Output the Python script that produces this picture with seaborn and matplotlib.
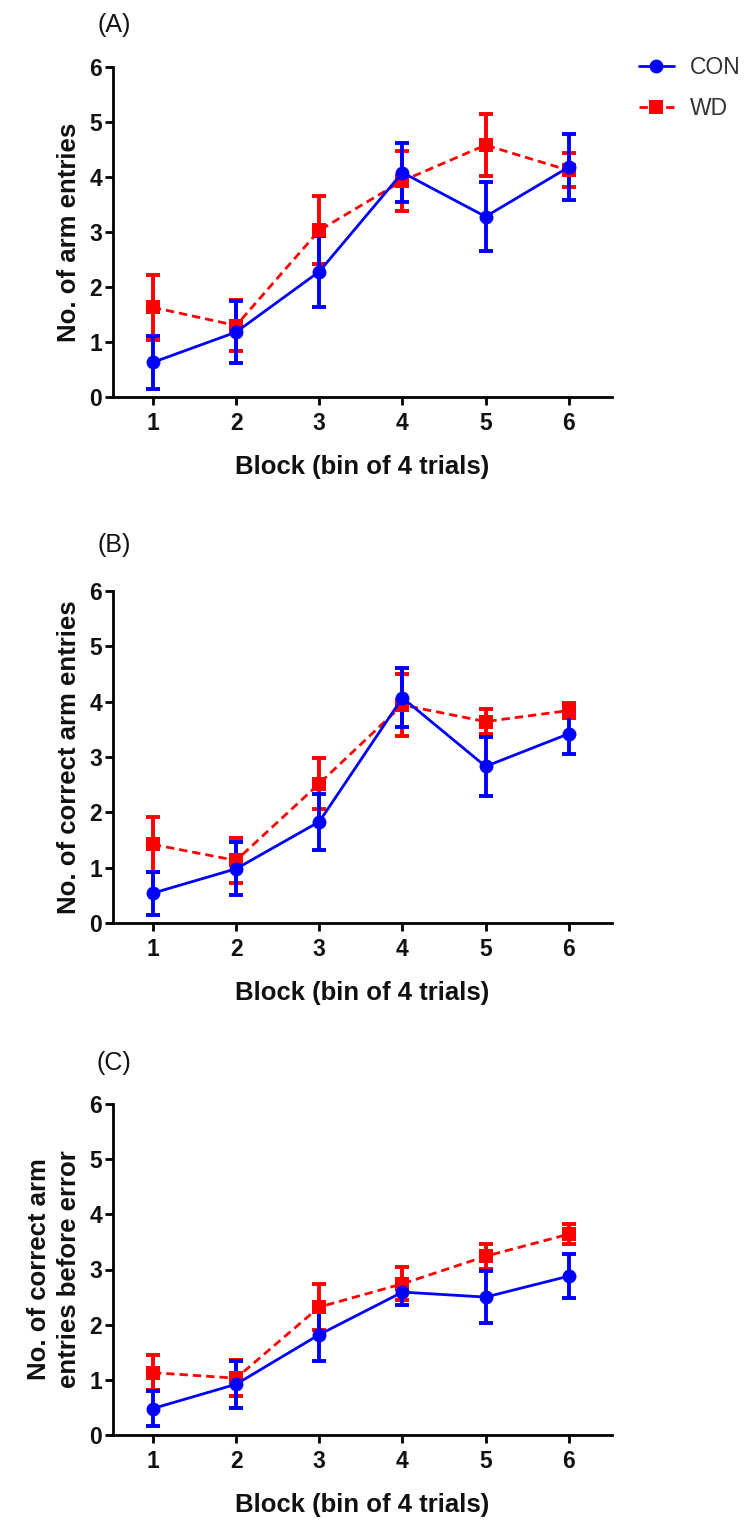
import matplotlib
matplotlib.use("Agg")
import matplotlib.pyplot as plt
import numpy as np
import pandas as pd
import seaborn as sns

# ---------------- data ----------------
blocks = [1, 2, 3, 4, 5, 6]
groups = ["CON", "WD"]
panel_letters = ["(A)", "(B)", "(C)"]
y_labels = ["No. of arm entries",
            "No. of correct arm entries",
            "No. of correct arm\nentries before error"]
x_label = "Block (bin of 4 trials)"
y_ticks = [0, 1, 2, 3, 4, 5, 6]

# Panel A: arm entries
a_con_mean = [0.63, 1.18, 2.28, 4.08, 3.28, 4.18]
a_con_sem = [0.48, 0.56, 0.65, 0.54, 0.63, 0.60]
a_wd_mean = [1.63, 1.30, 3.03, 3.93, 4.58, 4.12]
a_wd_sem = [0.59, 0.46, 0.62, 0.55, 0.56, 0.31]

# Panel B: correct arm entries
b_con_mean = [0.54, 0.98, 1.83, 4.07, 2.83, 3.42]
b_con_sem = [0.39, 0.48, 0.51, 0.53, 0.54, 0.37]
b_wd_mean = [1.42, 1.13, 2.52, 3.94, 3.64, 3.84]
b_wd_sem = [0.49, 0.40, 0.46, 0.56, 0.22, 0.13]

# Panel C: correct arm entries before error
c_con_mean = [0.48, 0.92, 1.82, 2.59, 2.50, 2.88]
c_con_sem = [0.31, 0.43, 0.47, 0.24, 0.47, 0.40]
c_wd_mean = [1.13, 1.03, 2.32, 2.74, 3.24, 3.64]
c_wd_sem = [0.32, 0.33, 0.42, 0.30, 0.23, 0.18]

panels = [
    {"CON": (a_con_mean, a_con_sem), "WD": (a_wd_mean, a_wd_sem)},
    {"CON": (b_con_mean, b_con_sem), "WD": (b_wd_mean, b_wd_sem)},
    {"CON": (c_con_mean, c_con_sem), "WD": (c_wd_mean, c_wd_sem)},
]

# ---------------- style ----------------
sns.set_style("ticks")
plt.rcParams["font.family"] = ["Liberation Sans", "DejaVu Sans"]

colors = {"CON": "#0000FF", "WD": "#FF0000"}
markers = {"CON": "o", "WD": "s"}
msizes = {"CON": 10, "WD": 10}
dashes = {"CON": "", "WD": (3, 1.8)}

W, H = 750, 1522
fig = plt.figure(figsize=(W / 100, H / 100), dpi=100)

# axes rectangles in pixels: (left, top-of-6, right, y-of-0)
rects = [(113, 67, 612, 397), (113, 591, 612, 923), (113, 1104, 612, 1435)]
letter_y = [25, 545, 1063]

handles = {}
for i, (rect, pdata) in enumerate(zip(rects, panels)):
    l, t, r, b = rect
    ax = fig.add_axes([l / W, 1 - b / H, (r - l) / W, (b - t) / H])
    for g in ["WD", "CON"]:
        mean, sem = pdata[g]
        df = pd.DataFrame({"block": blocks, "value": mean, "group": g})
        ax.errorbar(blocks, mean, yerr=sem, fmt="none", ecolor=colors[g],
                    elinewidth=2.8, capsize=4.8, capthick=2.8, zorder=2)
        sns.lineplot(data=df, x="block", y="value", hue="group",
                     palette={g: colors[g]}, style="group",
                     markers={g: markers[g]}, dashes={g: dashes[g]},
                     markersize=msizes[g], markeredgewidth=0,
                     linewidth=2.0, errorbar=None, legend=False,
                     ax=ax, zorder=3)
        handles[g] = ax.get_lines()[-1]

    ax.set_xlim(0.52, 6.52)
    ax.set_ylim(0, 6)
    ax.set_xticks(blocks)
    ax.set_yticks(y_ticks)
    ax.set_xticklabels([str(v) for v in blocks])
    ax.set_yticklabels([str(v) for v in y_ticks])
    sns.despine(ax=ax)
    for s in ["left", "bottom"]:
        ax.spines[s].set_linewidth(2.0)
        ax.spines[s].set_color("black")
    ax.tick_params(axis="both", which="major", length=6, width=2.0,
                   color="black", labelsize=16.5, labelcolor="#111111",
                   direction="out")
    ax.tick_params(axis="y", pad=2)
    ax.tick_params(axis="x", pad=5)
    for lab in ax.get_xticklabels() + ax.get_yticklabels():
        lab.set_fontweight("bold")
    ax.set_xlabel(x_label, fontsize=18.5, fontweight="bold", color="#111111",
                  labelpad=14)
    ax.set_ylabel(y_labels[i], fontsize=18.5, fontweight="bold",
                  color="#111111", labelpad=6, linespacing=1.3)
    ax.grid(False)
    fig.text(114 / W, 1 - letter_y[i] / H, panel_letters[i], fontsize=18,
             ha="center", va="center", color="#111111")

leg = fig.legend([handles["CON"], handles["WD"]], groups,
                 loc="center left", bbox_to_anchor=(630 / W, 1 - 88 / H),
                 frameon=False, fontsize=16.5, handlelength=1.5,
                 handletextpad=0.7, labelspacing=0.75, borderaxespad=0)
for txt in leg.get_texts():
    txt.set_color("#333333")

fig.savefig("out.png", dpi=100)
